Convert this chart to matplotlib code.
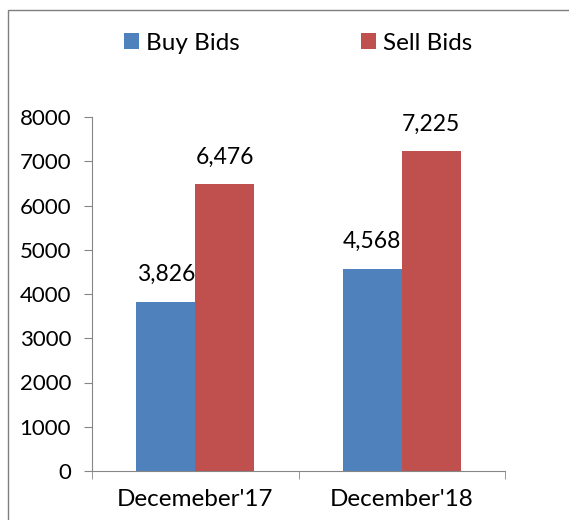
import matplotlib; matplotlib.use("Agg")
import matplotlib.pyplot as plt
import numpy as np

BLUE = "#4F81BD"; RED = "#C0504D"; GRID = "#868686"
plt.rcParams.update({"font.family": ["Lato", "DejaVu Sans"]})

categories = ["Decemeber'17", "December'18"]
buy_bids = [3826, 4568]
sell_bids = [6476, 7225]
yticks = [0, 1000, 2000, 3000, 4000, 5000, 6000, 7000, 8000]

fig = plt.figure(figsize=(5.69, 5.20), dpi=100)
fig.patch.set_facecolor("white")

# outer chart frame (cropped on right and bottom)
fig.add_artist(plt.Rectangle((8/569, -0.2), 2.0, 1.2 - 10/520, transform=fig.transFigure,
                             fill=False, edgecolor="#7f7f7f", linewidth=1.0))

ax = fig.add_axes([92/569, 1 - 471/520, (505 - 92)/569, (471 - 117)/520])
x = np.arange(len(categories)); w = 0.286
b1 = ax.bar(x - w/2, buy_bids, w, color=BLUE, label="Buy Bids")
b2 = ax.bar(x + w/2, sell_bids, w, color=RED, label="Sell Bids")
for bars, vals in ((b1, buy_bids), (b2, sell_bids)):
    for r, v in zip(bars, vals):
        ax.text(r.get_x() + r.get_width()/2, v + 380, f"{v:,}", ha="center", va="bottom",
                fontsize=16.5, color="black")

ax.set_xlim(-0.5, 1.5); ax.set_ylim(0, 8000)
ax.set_yticks(yticks)
ax.set_yticklabels([str(t) for t in yticks], fontsize=16)
ax.set_xticks(x); ax.set_xticklabels(categories, fontsize=17.5)
ax.set_xticks([-0.5, 0.5, 1.5], minor=True)
ax.tick_params(axis="x", which="major", length=0, pad=13)
ax.tick_params(axis="x", which="minor", length=6, color=GRID, direction="out")
ax.tick_params(axis="y", length=6, color=GRID, direction="out", pad=9)
for s in ["top", "right"]: ax.spines[s].set_visible(False)
for s in ["left", "bottom"]: ax.spines[s].set_color(GRID)

fig.legend(handles=[b1, b2], loc="center", bbox_to_anchor=(0.524, 0.917), ncol=2,
           frameon=False, fontsize=17.5, handlelength=0.6, handleheight=0.6,
           handletextpad=0.3, columnspacing=5.0)

fig.savefig("out.png", dpi=100, facecolor="white")
